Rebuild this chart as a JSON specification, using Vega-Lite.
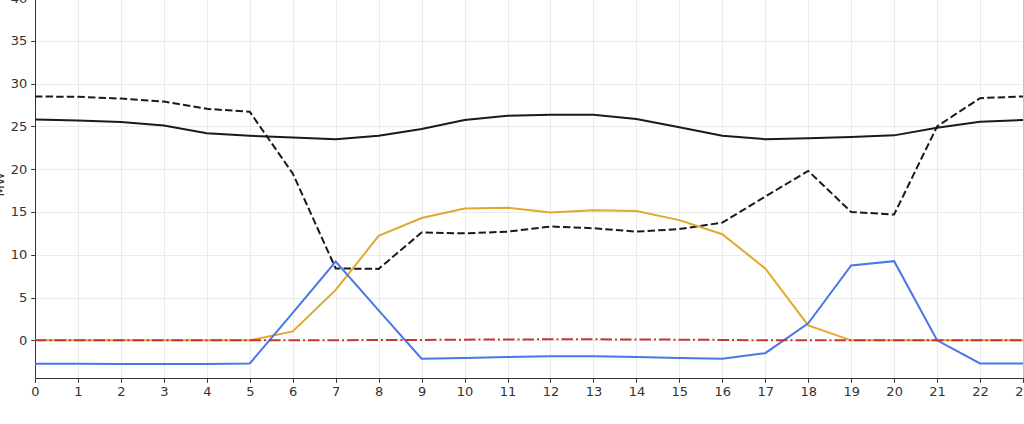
{
  "$schema": "https://vega.github.io/schema/vega-lite/v6.json",
  "width": 988,
  "height": 380,
  "autosize": {"type": "none"},
  "padding": {"left": 35, "top": -2, "right": 1, "bottom": 46},
  "background": "white",
  "config": {
    "view": {"stroke": "#333333", "strokeWidth": 1},
    "axis": {
      "labelFont": "DejaVu Sans",
      "labelFontSize": 13,
      "labelColor": "#333333",
      "titleFont": "DejaVu Sans",
      "titleFontSize": 13,
      "titleColor": "#333333",
      "titleFontWeight": "normal",
      "domainColor": "#333333",
      "tickColor": "#333333",
      "tickSize": 4.3,
      "gridColor": "#e6e6e6",
      "gridWidth": 0.8
    }
  },
  "data": {
    "values": [
      {"hour": 0, "load": 25.8, "net": 28.5, "solar": 0, "battery": -2.73, "grid": 0},
      {"hour": 1, "load": 25.7, "net": 28.45, "solar": 0, "battery": -2.73, "grid": 0},
      {"hour": 2, "load": 25.5, "net": 28.25, "solar": 0, "battery": -2.75, "grid": 0},
      {"hour": 3, "load": 25.1, "net": 27.9, "solar": 0, "battery": -2.75, "grid": 0},
      {"hour": 4, "load": 24.2, "net": 27.05, "solar": 0, "battery": -2.75, "grid": 0},
      {"hour": 5, "load": 23.9, "net": 26.7, "solar": 0, "battery": -2.7, "grid": 0},
      {"hour": 6, "load": 23.7, "net": 19.5, "solar": 1.05, "battery": 3.2, "grid": 0},
      {"hour": 7, "load": 23.5, "net": 8.4, "solar": 5.9, "battery": 9.2, "grid": 0},
      {"hour": 8, "load": 23.9, "net": 8.35, "solar": 12.2, "battery": 3.5, "grid": 0.05},
      {"hour": 9, "load": 24.7, "net": 12.6, "solar": 14.3, "battery": -2.15, "grid": 0.05},
      {"hour": 10, "load": 25.75, "net": 12.5, "solar": 15.4, "battery": -2.05, "grid": 0.08},
      {"hour": 11, "load": 26.25, "net": 12.7, "solar": 15.5, "battery": -1.95, "grid": 0.1},
      {"hour": 12, "load": 26.35, "net": 13.3, "solar": 14.95, "battery": -1.85, "grid": 0.12},
      {"hour": 13, "load": 26.35, "net": 13.1, "solar": 15.2, "battery": -1.85, "grid": 0.12},
      {"hour": 14, "load": 25.85, "net": 12.7, "solar": 15.1, "battery": -1.95, "grid": 0.1},
      {"hour": 15, "load": 24.9, "net": 13.0, "solar": 14.05, "battery": -2.05, "grid": 0.08},
      {"hour": 16, "load": 23.9, "net": 13.75, "solar": 12.4, "battery": -2.15, "grid": 0.05},
      {"hour": 17, "load": 23.5, "net": 16.8, "solar": 8.4, "battery": -1.5, "grid": 0},
      {"hour": 18, "load": 23.6, "net": 19.8, "solar": 1.75, "battery": 2.0, "grid": 0},
      {"hour": 19, "load": 23.75, "net": 15.0, "solar": 0, "battery": 8.75, "grid": 0},
      {"hour": 20, "load": 23.95, "net": 14.7, "solar": 0, "battery": 9.25, "grid": 0},
      {"hour": 21, "load": 24.85, "net": 25.0, "solar": 0, "battery": 0, "grid": 0},
      {"hour": 22, "load": 25.55, "net": 28.3, "solar": 0, "battery": -2.7, "grid": 0},
      {"hour": 23, "load": 25.75, "net": 28.5, "solar": 0, "battery": -2.7, "grid": 0}
    ]
  },
  "encoding": {
    "x": {
      "field": "hour",
      "type": "quantitative",
      "scale": {"domain": [0, 23], "nice": false, "zero": false},
      "axis": {
        "title": null,
        "values": [0, 1, 2, 3, 4, 5, 6, 7, 8, 9, 10, 11, 12, 13, 14, 15, 16, 17, 18, 19, 20, 21, 22, 23],
        "format": "d",
        "labelAngle": 0,
        "labelPadding": 3,
        "labelFlush": false,
        "labelOverlap": false
      }
    }
  },
  "layer": [
    {
      "mark": {"type": "line", "color": "#1a1a1a", "strokeWidth": 2},
      "encoding": {
        "y": {
          "field": "load",
          "type": "quantitative",
          "scale": {"domain": [-4.4, 40], "nice": false, "zero": false},
          "axis": {
            "title": "MW",
            "values": [0, 5, 10, 15, 20, 25, 30, 35, 40],
            "labelPadding": 4,
            "labelFlush": false,
            "titleAngle": -90,
            "titleX": -31.5,
            "titleY": 186,
            "titleBaseline": "alphabetic",
            "titleAlign": "center"
          }
        }
      }
    },
    {
      "mark": {"type": "line", "color": "#1a1a1a", "strokeWidth": 2, "strokeDash": [7.4, 3.2]},
      "encoding": {"y": {"field": "net", "type": "quantitative"}}
    },
    {
      "mark": {"type": "line", "color": "#e0a82e", "strokeWidth": 2},
      "encoding": {"y": {"field": "solar", "type": "quantitative"}}
    },
    {
      "mark": {"type": "line", "color": "#4a76e8", "strokeWidth": 2},
      "encoding": {"y": {"field": "battery", "type": "quantitative"}}
    },
    {
      "mark": {"type": "line", "color": "#c8372d", "strokeWidth": 2, "strokeDash": [11.5, 3, 2, 3]},
      "encoding": {"y": {"field": "grid", "type": "quantitative"}}
    }
  ]
}
